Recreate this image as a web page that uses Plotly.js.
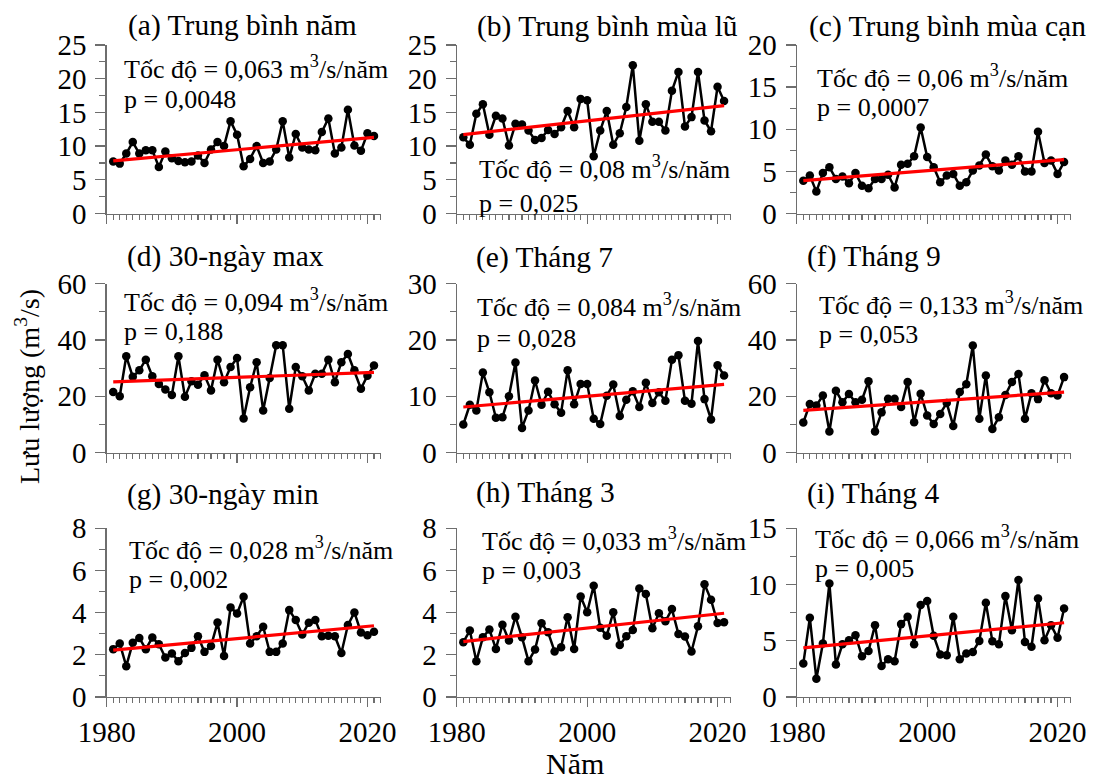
<!DOCTYPE html>
<html>
<head>
<meta charset="utf-8">
<script src="https://cdn.plot.ly/plotly-3.0.1.min.js"></script>
<style>html,body{margin:0;padding:0;background:#fff;}#chart{width:1093px;height:782px;}</style>
</head>
<body>
<div id="chart"></div>
<script>
// ---------- DATA ----------
const years = [1981,1982,1983,1984,1985,1986,1987,1988,1989,1990,1991,1992,1993,1994,1995,1996,1997,1998,1999,2000,
               2001,2002,2003,2004,2005,2006,2007,2008,2009,2010,2011,2012,2013,2014,2015,2016,2017,2018,2019,2020,2021];

const annualMean = [7.7,7.4,8.9,10.6,8.9,9.4,9.4,6.9,9.2,8.2,7.8,7.6,7.7,8.6,7.5,9.5,10.6,10.0,13.7,11.7,
                    7.0,8.1,10.0,7.5,7.7,9.5,13.7,8.3,11.8,9.8,9.5,9.4,12.1,14.1,8.9,9.8,15.4,10.1,9.3,11.9,11.5];
const floodMean = [11.3,10.2,14.8,16.2,11.7,14.5,14.1,10.1,13.3,13.2,12.3,10.9,11.2,12.4,11.8,12.8,15.2,12.8,17.0,16.8,
                   8.5,12.3,15.2,10.2,11.9,15.8,22.0,10.8,16.2,13.6,13.6,12.3,18.2,21.0,12.9,14.3,21.0,13.8,12.2,18.8,16.7];
const dryMean = [3.9,4.5,2.6,4.8,5.5,4.1,4.4,3.6,4.8,3.3,3.0,4.1,4.1,4.6,3.1,5.8,5.9,6.8,10.2,6.7,
                 5.5,3.7,4.5,4.7,3.3,3.7,5.1,5.7,7.0,5.6,5.1,6.3,5.8,6.8,5.0,5.0,9.7,6.0,6.3,4.7,6.1];
const max30 = [21.5,20.0,34.2,26.9,29.2,33.0,27.1,24.4,22.4,20.5,34.2,19.8,25.3,24.1,27.5,22.1,33.0,25.0,30.4,33.6,
               12.1,23.2,32.1,15.0,26.5,38.1,38.1,15.6,30.4,27.1,22.1,28.0,28.0,33.0,25.0,32.1,35.0,29.2,22.7,27.3,30.9];
const july = [5.0,8.5,7.5,14.2,10.7,6.2,6.3,10.0,16.0,4.4,7.5,12.8,8.5,10.8,8.6,7.1,14.6,8.6,12.2,12.2,
              6.0,5.1,10.1,12.1,6.5,9.4,10.9,8.1,12.4,8.8,10.7,9.2,16.5,17.3,9.2,8.7,19.8,9.5,5.9,15.5,13.7];
const september = [10.7,17.3,16.7,20.3,7.5,22.0,17.9,20.8,17.9,18.8,25.3,7.5,14.3,19.1,19.1,16.2,25.1,10.8,20.9,13.2,
                   10.2,13.7,17.6,9.5,21.5,24.3,38.0,12.0,27.4,8.4,12.6,20.5,25.1,27.9,12.0,21.1,19.0,25.7,21.1,20.3,26.8];
const min30 = [2.27,2.54,1.46,2.57,2.80,2.27,2.82,2.50,1.87,2.06,1.70,2.09,2.33,2.88,2.14,2.42,3.53,1.95,4.25,3.96,
               4.75,2.54,2.88,3.33,2.14,2.14,2.54,4.12,3.65,2.96,3.52,3.65,2.88,2.90,2.88,2.09,3.41,4.01,3.06,2.93,3.09];
const march = [2.60,3.15,1.70,2.83,3.20,2.28,3.43,2.68,3.81,2.83,1.70,2.25,3.50,3.07,2.16,2.36,3.78,2.28,4.77,4.02,
               5.28,3.28,2.91,4.02,2.47,2.88,3.18,5.15,4.88,3.26,3.97,3.59,4.17,2.99,2.87,2.16,3.35,5.35,4.61,3.51,3.54];
const april = [2.97,7.04,1.63,4.75,10.1,2.88,4.69,5.05,5.50,3.62,4.10,6.39,2.76,3.36,3.18,6.48,7.13,4.69,8.17,8.53,
               5.44,3.77,3.71,7.13,3.36,3.86,4.01,4.99,8.38,4.96,4.69,8.97,5.94,10.4,4.90,4.46,8.76,5.05,6.39,5.26,7.87];

const trendYears = [1981, 2021];
const trendA = [7.8, 11.3];
const trendB = [11.7, 16.0];
const trendC = [3.9, 6.4];
const trendD = [25.1, 28.5];
const trendE = [8.1, 12.1];
const trendF = [15.0, 21.5];
const trendG = [2.22, 3.38];
const trendH = [2.63, 3.97];
const trendI = [4.37, 6.6];

const panelTitles = ["(a) Trung bình năm","(b) Trung bình mùa lũ","(c) Trung bình mùa cạn",
                     "(d) 30-ngày max","(e) Tháng 7","(f) Tháng 9",
                     "(g) 30-ngày min","(h) Tháng 3","(i) Tháng 4"];
const rateTexts = ["Tốc độ = 0,063 m<sup>3</sup>/s/năm","Tốc độ = 0,08 m<sup>3</sup>/s/năm","Tốc độ = 0,06 m<sup>3</sup>/s/năm",
                   "Tốc độ = 0,094 m<sup>3</sup>/s/năm","Tốc độ = 0,084 m<sup>3</sup>/s/năm","Tốc độ = 0,133 m<sup>3</sup>/s/năm",
                   "Tốc độ = 0,028 m<sup>3</sup>/s/năm","Tốc độ = 0,033 m<sup>3</sup>/s/năm","Tốc độ = 0,066 m<sup>3</sup>/s/năm"];
const pTexts = ["p = 0,0048","p = 0,025","p = 0,0007","p = 0,188","p = 0,028","p = 0,053","p = 0,002","p = 0,003","p = 0,005"];
const yMax = [25, 25, 20, 60, 30, 60, 8, 8, 15];
const yMajor = [5, 5, 5, 20, 10, 20, 2, 2, 5];
const xTickLabels = ["1980","2000","2020"];
const yTitle = "Lưu lượng (m<sup>3</sup>/s)";
const xTitle = "Năm";

const series = [annualMean, floodMean, dryMean, max30, july, september, min30, march, april];
const trends = [trendA, trendB, trendC, trendD, trendE, trendF, trendG, trendH, trendI];

// ---------- LAYOUT ----------
const W = 1093, H = 782;
const px = x => x / W;
const py = y => 1 - y / H;
const colX = [[106.7, 380.5], [456.8, 730.6], [796.8, 1070.6]];
const rowY = [[45, 213.5], [283.5, 452.7], [528.3, 697]];
const titlePos = [[126,25],[475,26],[806.5,26],[125,256.5],[473.5,257.5],[805,256.7],[125,494],[473.5,492.5],[805,493]];
const ratePos = [[121.7,68],[476.7,167.5],[815,76.2],[121.7,300.7],[475,306],[816.7,303],[126.7,548],[480,539.5],[813.3,537]];
const pPos = [[121.7,99.5],[476.7,203],[815,107.2],[121.7,331.8],[475,338],[816.7,334.3],[126.7,579.5],[480,570.5],[813.3,568]];

const FONT = "Liberation Serif, Times New Roman, serif";
const AXC = "#6e6e6e";

const data = [];
const layout = {
  width: W, height: H,
  margin: {l: 0, r: 0, t: 0, b: 0},
  paper_bgcolor: "#fff", plot_bgcolor: "rgba(0,0,0,0)",
  showlegend: false,
  font: {family: FONT, color: "#000"},
  annotations: []
};

for (let i = 0; i < 9; i++) {
  const r = Math.floor(i / 3), c = i % 3;
  const sfx = i === 0 ? "" : String(i + 1);
  const xa = "x" + sfx, ya = "y" + sfx;
  data.push({
    x: years, y: series[i], xaxis: xa, yaxis: ya, type: "scatter", mode: "lines+markers",
    line: {color: "#000", width: 2.5}, marker: {color: "#000", size: 8.5}, cliponaxis: false
  });
  data.push({
    x: trendYears, y: trends[i], xaxis: xa, yaxis: ya, type: "scatter", mode: "lines",
    line: {color: "#ff0000", width: 3.2}
  });
  layout["xaxis" + sfx] = {
    domain: [px(colX[c][0]), px(colX[c][1])], anchor: ya, range: [1980, 2022],
    showgrid: false, zeroline: false, showline: true, linecolor: AXC, linewidth: 1.3,
    ticks: "outside", ticklen: 9, tickwidth: 1.3, tickcolor: AXC,
    tickmode: "array", tickvals: [1980, 2000, 2020], ticktext: xTickLabels,
    showticklabels: r === 2, tickfont: {family: FONT, size: 29, color: "#000"},
    minor: {dtick: 1, tick0: 1980, ticks: "outside", ticklen: 5, tickwidth: 1.1, tickcolor: AXC, showgrid: false}
  };
  layout["yaxis" + sfx] = {
    domain: [py(rowY[r][1]), py(rowY[r][0])], anchor: xa, range: [0, yMax[i]],
    showgrid: false, zeroline: false, showline: true, linecolor: AXC, linewidth: 1.3,
    ticks: "outside", ticklen: 10, tickwidth: 1.3, tickcolor: AXC,
    dtick: yMajor[i], tick0: 0, tickfont: {family: FONT, size: 29, color: "#000"},
    ticklabelstandoff: 3,
    minor: {dtick: yMajor[i] / 2, tick0: 0, ticks: "outside", ticklen: 6, tickwidth: 1.1, tickcolor: AXC, showgrid: false}
  };
  layout.annotations.push({
    xref: "paper", yref: "paper", x: px(titlePos[i][0]), y: py(titlePos[i][1]),
    xanchor: "left", yanchor: "middle", showarrow: false, text: panelTitles[i],
    font: {family: FONT, size: 29.5, color: "#000"}
  });
  layout.annotations.push({
    xref: "paper", yref: "paper", x: px(ratePos[i][0]), y: py(ratePos[i][1]),
    xanchor: "left", yanchor: "middle", showarrow: false, text: rateTexts[i],
    font: {family: FONT, size: 26, color: "#000"}
  });
  layout.annotations.push({
    xref: "paper", yref: "paper", x: px(pPos[i][0]), y: py(pPos[i][1]),
    xanchor: "left", yanchor: "middle", showarrow: false, text: pTexts[i],
    font: {family: FONT, size: 26, color: "#000"}
  });
}

layout.annotations.push({
  xref: "paper", yref: "paper", x: px(27), y: py(387), xanchor: "center", yanchor: "middle",
  showarrow: false, text: yTitle, textangle: -90, font: {family: FONT, size: 28, color: "#000"}
});
layout.annotations.push({
  xref: "paper", yref: "paper", x: px(575), y: 0, xanchor: "center", yanchor: "bottom",
  showarrow: false, text: xTitle, font: {family: FONT, size: 30, color: "#000"}
});

Plotly.newPlot("chart", data, layout, {displayModeBar: false, staticPlot: true});
</script>
</body>
</html>
